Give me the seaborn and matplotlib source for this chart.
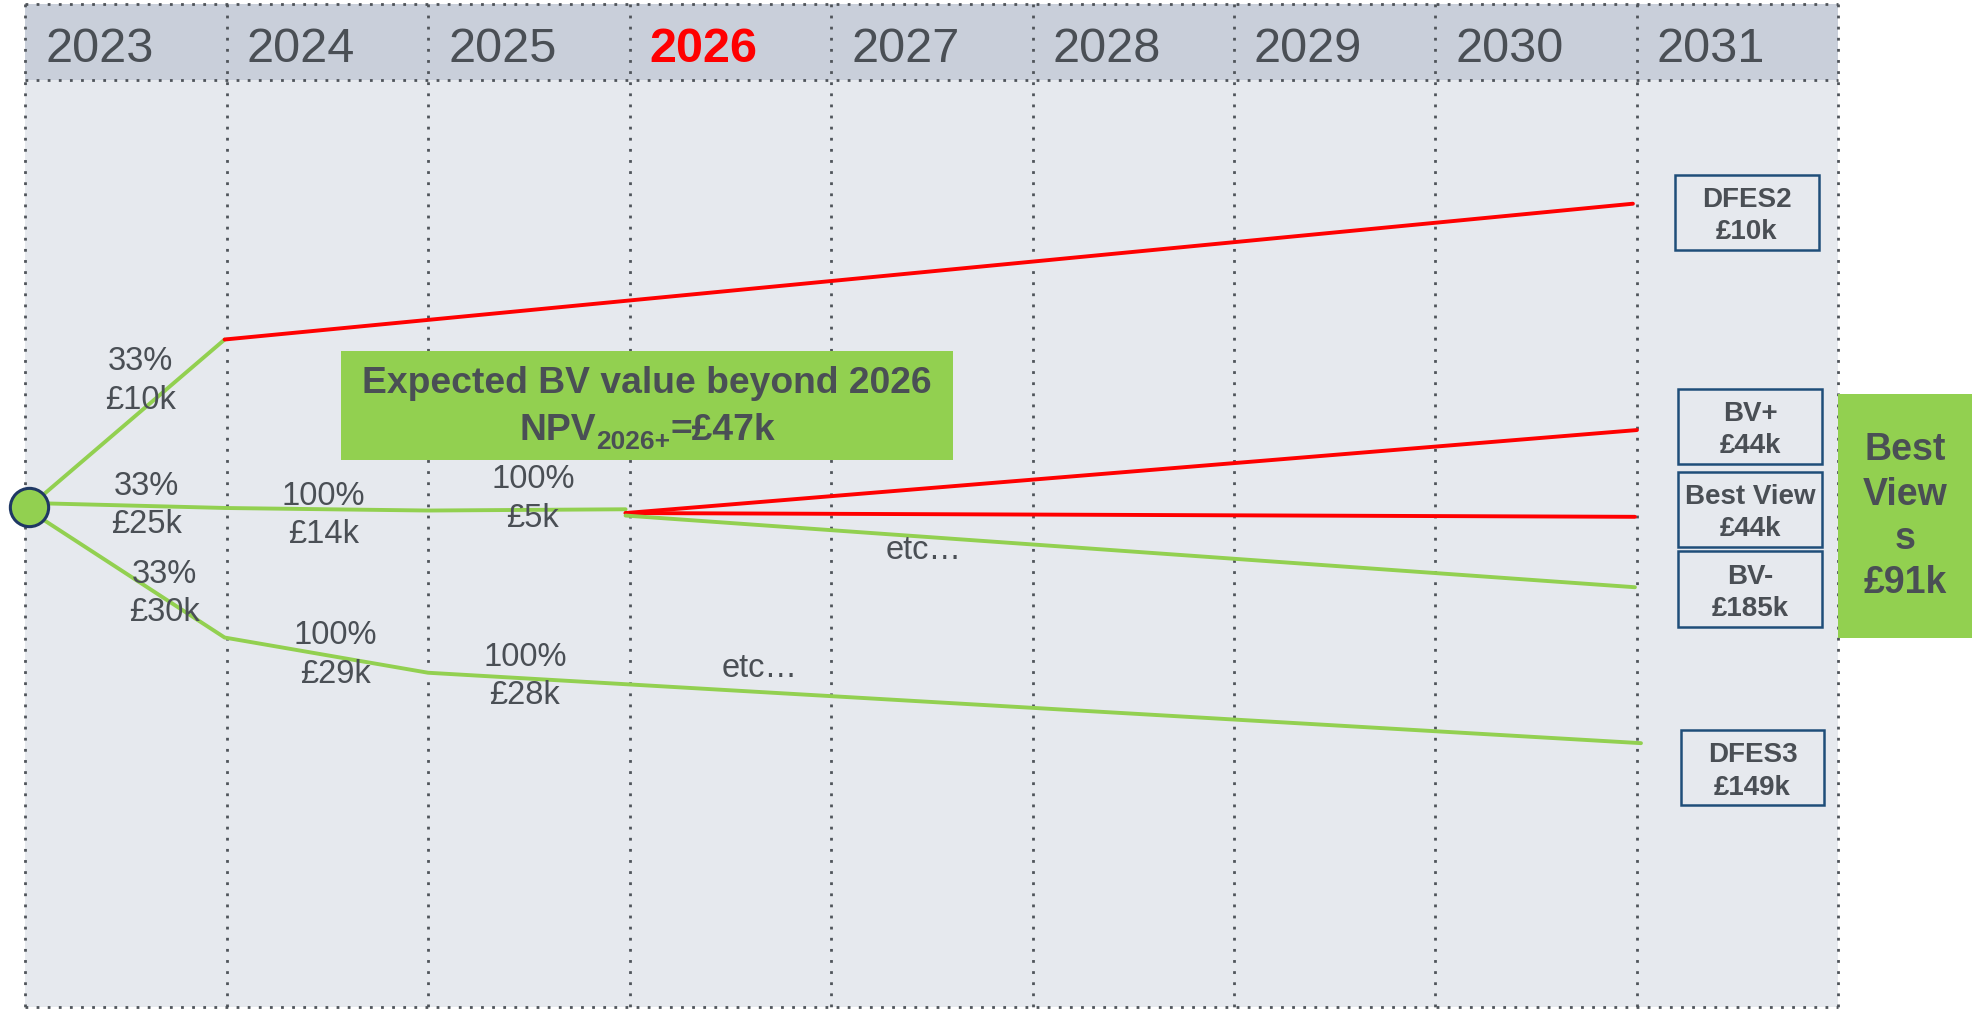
import numpy as np
import pandas as pd
import matplotlib
matplotlib.use("Agg")
import matplotlib.pyplot as plt
from matplotlib.patches import Rectangle
from matplotlib.transforms import IdentityTransform
import seaborn as sns

# ---------------- data ----------------
years = [2023, 2024, 2025, 2026, 2027, 2028, 2029, 2030, 2031]
highlight_year = 2026

# tree branches: x in years, y = vertical position (0 = top of chart)
seg_names = ["up_green", "up_red", "mid_green", "bvplus_red", "bv_red", "bvminus_green", "low_green"]
seg_x = [
    [2023.02, 2023.99],
    [2023.99, 2030.98],
    [2023.02, 2024.00, 2025.00, 2025.98],
    [2025.98, 2031.00],
    [2025.98, 2030.99],
    [2025.98, 2030.99],
    [2023.02, 2023.99, 2025.00, 2031.02],
]
seg_y = [
    [403, 270],
    [270, 162],
    [400, 404, 406, 405],
    [408, 342],
    [408, 411],
    [410, 467],
    [406, 507, 535, 591],
]
seg_kind = ["green", "red", "green", "red", "red", "green", "green"]

node_x = [2023.02]
node_y = [403]

branch_labels = ["33%\n£10k", "33%\n£25k", "33%\n£30k", "100%\n£14k", "100%\n£5k",
                 "100%\n£29k", "100%\n£28k", "etc…", "etc…"]
branch_label_x = [2023.574, 2023.60, 2023.69, 2024.48, 2025.52, 2024.54, 2025.48, 2027.46, 2026.645]
branch_label_y = [303, 402, 472, 410, 397, 521, 538, 438, 532]

outcome_names = ["DFES2", "BV+", "Best View", "BV-", "DFES3"]
outcome_values = ["£10k", "£44k", "£44k", "£185k", "£149k"]
outcome_x = [2031.546, 2031.562, 2031.562, 2031.562, 2031.574]
outcome_y = [169, 339, 405, 468.5, 610.5]

summary_title = "Expected BV value beyond 2026"
summary_main, summary_sub, summary_tail = "NPV", "2026+", "=£47k"
best_views_label = "Best\nView\ns\n£91k"

# ---------------- style ----------------
GREEN = "#92D050"
RED = "#FF0000"
TXT = "#4A4F55"
BOXEDGE = "#1F4E79"
HEADER = "#C9CFDA"
BODY = "#E6E9EE"
DOT = "#4F545A"

sns.set_theme(style="white")
plt.rcParams["font.family"] = ["Liberation Sans", "DejaVu Sans"]

W, H = 1972, 1011
fig = plt.figure(figsize=(W / 100, H / 100), dpi=100)
ax = fig.add_axes([0, 0, 1, 1])

x0, x1 = years[0], years[-1] + 1
top, head_bot, bottom = 3, 64, 801

# background bands
ax.add_patch(Rectangle((x0, top), x1 - x0, head_bot - top, facecolor=HEADER, edgecolor="none", zorder=0))
ax.add_patch(Rectangle((x0, head_bot), x1 - x0, bottom - head_bot, facecolor=BODY, edgecolor="none", zorder=0))

# dotted grid
dot_style = dict(color=DOT, lw=2.0, linestyle=(0, (1, 3)), dash_capstyle="butt", zorder=0.5)
for xv in years + [x1]:
    ax.plot([xv, xv], [top, bottom], **dot_style)
for yv in [top, head_bot, bottom]:
    ax.plot([x0, x1], [yv, yv], **dot_style)

# year labels
for yr in years:
    hl = yr == highlight_year
    ax.text(yr + 0.099, 49.3, str(yr), fontsize=35,
            color=RED if hl else TXT, fontweight="bold" if hl else "normal",
            ha="left", va="baseline", zorder=3)

# branches via seaborn
rows = []
for name, xs, ys in zip(seg_names, seg_x, seg_y):
    for i, (xv, yv) in enumerate(zip(xs, ys)):
        rows.append({"seg": name, "x": xv, "y": yv, "order": i})
df = pd.DataFrame(rows)
palette = {n: (GREEN if k == "green" else RED) for n, k in zip(seg_names, seg_kind)}
sns.lineplot(data=df, x="x", y="y", hue="seg", palette=palette, estimator=None,
             sort=False, legend=False, linewidth=2.8, ax=ax, zorder=2)

# start node
sns.scatterplot(x=node_x, y=node_y, s=760, color=GREEN, edgecolor="#1F3864",
                linewidth=2.2, ax=ax, zorder=5, legend=False)

ax.set_xlim(2022.875, 2032.663)
ax.set_ylim(804, 0)
ax.axis("off")

# branch labels
for lab, xv, yv in zip(branch_labels, branch_label_x, branch_label_y):
    ax.text(xv, yv, lab, fontsize=23.5, color=TXT, ha="center", va="center",
            linespacing=1.32, zorder=4)

# outcome boxes
bw, bh = 0.712, 60
for nm, val, xv, yv in zip(outcome_names, outcome_values, outcome_x, outcome_y):
    ax.add_patch(Rectangle((xv - bw / 2, yv - bh / 2), bw, bh, facecolor="none",
                           edgecolor=BOXEDGE, lw=1.8, zorder=3))
    ax.text(xv, yv + 3, f"{nm}\n{val}", fontsize=20, fontweight="bold", color=TXT,
            ha="center", va="center", linespacing=1.32, zorder=4)

# best views green box
bvx0 = x1
bvx1 = 2032.663
ax.add_patch(Rectangle((bvx0, 313), bvx1 - bvx0, 194, facecolor=GREEN, edgecolor="none", zorder=3))
ax.text((bvx0 + bvx1) / 2, 411, best_views_label, fontsize=27, fontweight="bold", color=TXT,
        ha="center", va="center", linespacing=1.3, zorder=4)

# summary box
sx0, sx1, sy0, sy1 = 2024.567, 2027.607, 279, 366
ax.add_patch(Rectangle((sx0, sy0), sx1 - sx0, sy1 - sy0, facecolor=GREEN, edgecolor="none", zorder=3))
scx = (sx0 + sx1) / 2
ax.text(scx, 305, summary_title, fontsize=26.8, fontweight="bold", color=TXT,
        ha="center", va="center", zorder=4)

renderer = fig.canvas.get_renderer()
parts = [(summary_main, 26.8, 0), (summary_sub, 19, -9), (summary_tail, 26.8, 0)]
widths = []
for s, fs, _ in parts:
    t = ax.text(0, 0, s, fontsize=fs, fontweight="bold", transform=IdentityTransform())
    widths.append(t.get_window_extent(renderer).width)
    t.remove()
cx, cy = ax.transData.transform((scx, 350))
xpos = cx - sum(widths) / 2
for (s, fs, dy), w in zip(parts, widths):
    ax.text(xpos, cy + dy, s, fontsize=fs, fontweight="bold", color=TXT, ha="left",
            va="baseline", transform=IdentityTransform(), zorder=4)
    xpos += w

fig.savefig("out.png", dpi=100, facecolor="white")
